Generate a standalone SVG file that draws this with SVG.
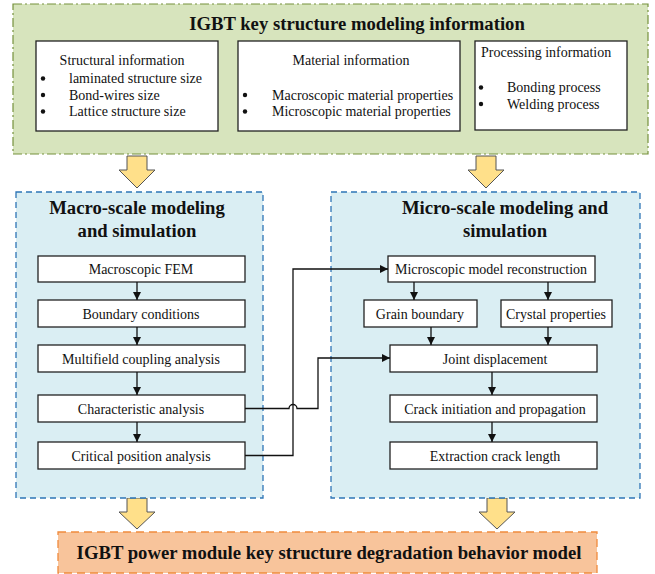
<svg xmlns="http://www.w3.org/2000/svg" width="655" height="574" viewBox="0 0 655 574">
<defs>
<style>
.t{font-family:"Liberation Serif","Times New Roman",serif;font-size:14px;fill:#111}
.ti{font-family:"Liberation Serif","Times New Roman",serif;font-size:18.7px;font-weight:bold;fill:#111}
.c{text-anchor:middle}
.nd{fill:#fff;stroke:#222;stroke-width:1.3}
.ln{fill:none;stroke:#111;stroke-width:1.3}
.blk{fill:#ffe08a;stroke:#555;stroke-width:1}
.bul{fill:#111}
</style>
<marker id="ah" viewBox="0 0 10 10" refX="10" refY="5" markerWidth="8" markerHeight="8" markerUnits="userSpaceOnUse" orient="auto">
<path d="M0,0 L10,5 L0,10 Z" fill="#111"/>
</marker>
</defs>
<rect width="655" height="574" fill="#fff"/>

<g id="info">
<rect x="13" y="4" width="635" height="150" fill="#d7e4bd" stroke="#76923c" stroke-width="1.2" stroke-dasharray="9,3,2,3"/>
<text class="ti c" x="357" y="30">IGBT key structure modeling information</text>
<g id="structural">
<rect class="nd" x="36" y="41" width="182" height="90"/>
<text class="t c" x="122" y="65">Structural information</text>
<circle class="bul" cx="43" cy="78.5" r="2.2"/><text class="t" x="69" y="83">laminated structure size</text>
<circle class="bul" cx="43" cy="95" r="2.2"/><text class="t" x="69" y="99.5">Bond-wires size</text>
<circle class="bul" cx="43" cy="111.5" r="2.2"/><text class="t" x="69" y="116">Lattice structure size</text>
</g>
<g id="material">
<rect class="nd" x="238" y="41" width="222" height="90"/>
<text class="t c" x="351" y="65">Material information</text>
<circle class="bul" cx="245" cy="95" r="2.2"/><text class="t" x="272" y="99.5">Macroscopic material properties</text>
<circle class="bul" cx="245" cy="111.5" r="2.2"/><text class="t" x="272" y="116">Microscopic material properties</text>
</g>
<g id="processing">
<rect class="nd" x="475" y="41" width="152" height="89"/>
<text class="t" x="481" y="57">Processing information</text>
<circle class="bul" cx="481" cy="87.5" r="2.2"/><text class="t" x="507" y="92">Bonding process</text>
<circle class="bul" cx="481" cy="104" r="2.2"/><text class="t" x="507" y="108.5">Welding process</text>
</g>
</g>

<g id="block-arrows">
<path class="blk" d="M127,156 H147 V170 H155 L137,188 L119,170 H127 Z"/>
<path class="blk" d="M476,156 H496 V170 H504 L486,188 L468,170 H476 Z"/>
<path class="blk" d="M127,498 H147 V512 H155 L137,529 L119,512 H127 Z"/>
<path class="blk" d="M487,498 H507 V512 H515 L497,529 L479,512 H487 Z"/>
</g>

<g id="macro">
<rect x="16" y="192" width="247" height="306" fill="#daeef3" stroke="#2e75b6" stroke-width="1.3" stroke-dasharray="6,4"/>
<text class="ti c" x="137" y="214">Macro-scale modeling</text>
<text class="ti c" x="137" y="237">and simulation</text>
</g>
<g id="micro">
<rect x="331" y="192" width="309" height="306" fill="#daeef3" stroke="#2e75b6" stroke-width="1.3" stroke-dasharray="6,4"/>
<text class="ti c" x="505" y="214">Micro-scale modeling and</text>
<text class="ti c" x="505" y="237">simulation</text>
</g>

<g id="n-fem"><rect class="nd" x="38" y="256" width="207" height="26"/><text class="t c" x="141" y="274">Macroscopic FEM</text></g>
<g id="n-boundary"><rect class="nd" x="38" y="300" width="207" height="27"/><text class="t c" x="141" y="318.5">Boundary conditions</text></g>
<g id="n-multifield"><rect class="nd" x="38" y="345" width="207" height="27"/><text class="t c" x="141" y="363.5">Multifield coupling analysis</text></g>
<g id="n-characteristic"><rect class="nd" x="38" y="395" width="207" height="27"/><text class="t c" x="141" y="413.5">Characteristic analysis</text></g>
<g id="n-critical"><rect class="nd" x="38" y="442" width="207" height="27"/><text class="t c" x="141" y="460.5">Critical position analysis</text></g>

<g id="n-reconstruction"><rect class="nd" x="388" y="256" width="207" height="26"/><text class="t c" x="491" y="274">Microscopic model reconstruction</text></g>
<g id="n-grain"><rect class="nd" x="364" y="300" width="113" height="27"/><text class="t c" x="420" y="318.5">Grain boundary</text></g>
<g id="n-crystal"><rect class="nd" x="501" y="300" width="111" height="27"/><text class="t c" x="556" y="318.5">Crystal properties</text></g>
<g id="n-joint"><rect class="nd" x="390" y="345" width="207" height="27"/><text class="t c" x="495" y="363.5">Joint displacement</text></g>
<g id="n-crack"><rect class="nd" x="390" y="395" width="207" height="27"/><text class="t c" x="495" y="413.5">Crack initiation and propagation</text></g>
<g id="n-extraction"><rect class="nd" x="390" y="442" width="207" height="27"/><text class="t c" x="495" y="460.5">Extraction crack length</text></g>

<g id="result">
<rect x="58" y="532" width="539" height="41" fill="#f8c49b" stroke="#f08a3c" stroke-width="1.3" stroke-dasharray="8,5"/>
<text class="ti c" x="329" y="559">IGBT power module key structure degradation behavior model</text>
</g>

<g id="connectors">
<path class="ln" marker-end="url(#ah)" d="M137,282 V300"/>
<path class="ln" marker-end="url(#ah)" d="M137,327 V345"/>
<path class="ln" marker-end="url(#ah)" d="M137,372 V395"/>
<path class="ln" marker-end="url(#ah)" d="M137,422 V442"/>
<path class="ln" marker-end="url(#ah)" d="M414,282 V300"/>
<path class="ln" marker-end="url(#ah)" d="M548,282 V300"/>
<path class="ln" marker-end="url(#ah)" d="M431,327 V345"/>
<path class="ln" marker-end="url(#ah)" d="M548,327 V345"/>
<path class="ln" marker-end="url(#ah)" d="M492,372 V395"/>
<path class="ln" marker-end="url(#ah)" d="M492,422 V442"/>
<path class="ln" marker-end="url(#ah)" d="M245,455.5 H293 V269 H388"/>
<path class="ln" marker-end="url(#ah)" d="M245,408.5 H289 A4,4 0 0 1 297,408.5 H318 V358 H390"/>
</g>
</svg>
